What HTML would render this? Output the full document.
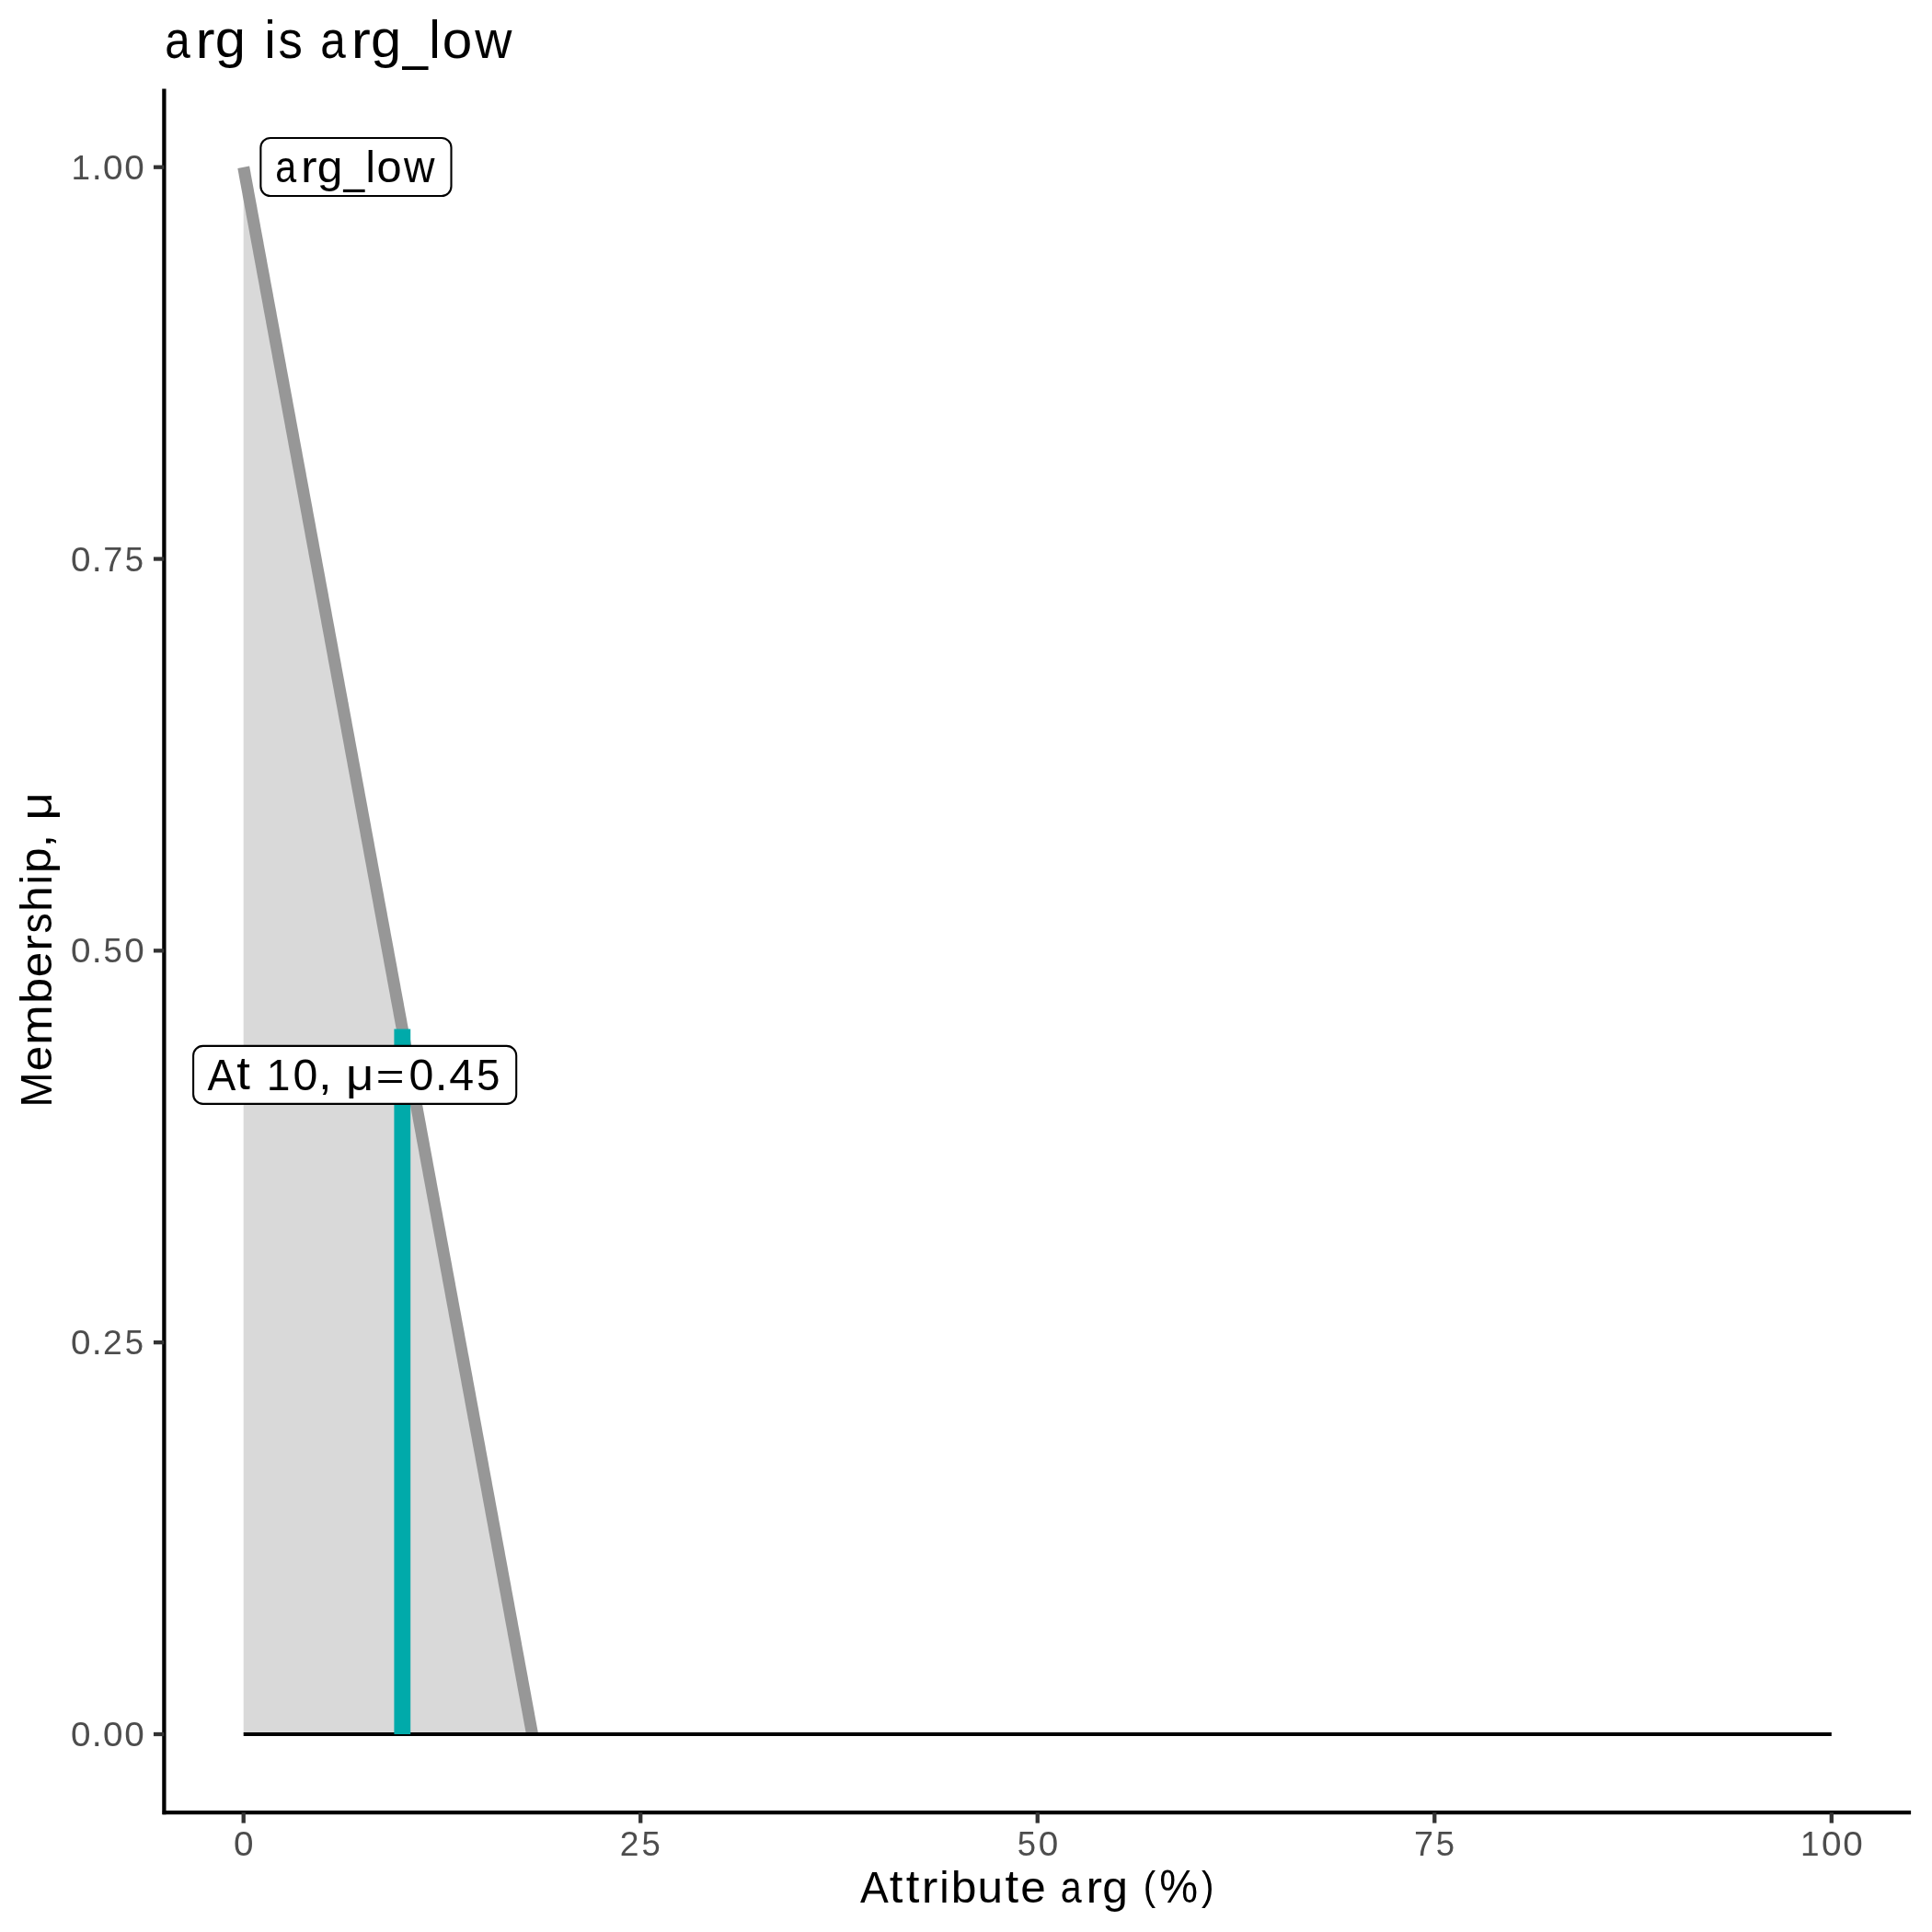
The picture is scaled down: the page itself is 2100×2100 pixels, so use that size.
<!DOCTYPE html>
<html><head><meta charset="utf-8">
<style>
html,body{margin:0;padding:0;background:#fff;overflow:hidden;}
svg{display:block;will-change:transform;}
text{font-family:"Liberation Sans",sans-serif;}
</style></head>
<body>
<svg width="2100" height="2100" viewBox="0 0 2100 2100">
<rect x="0" y="0" width="2100" height="2100" fill="#ffffff"/>
<g fill="#000000">
<text transform="translate(179.20,63.02) scale(0.8992,1.0481)" font-size="55.0">a</text>
<text transform="translate(212.50,62.80) scale(1.1500,1.0408)" font-size="55.0">r</text>
<text transform="translate(233.87,62.46) scale(1.0869,1.0322)" font-size="55.0">g</text>
<text transform="translate(287.16,62.80) scale(1.0222,1.0485)" font-size="55.0">i</text>
<text transform="translate(302.53,63.01) scale(0.9586,1.0509)" font-size="55.0">s</text>
<text transform="translate(348.36,63.02) scale(0.8992,1.0481)" font-size="55.0">a</text>
<text transform="translate(381.65,62.80) scale(1.1500,1.0408)" font-size="55.0">r</text>
<text transform="translate(403.02,62.46) scale(1.0869,1.0322)" font-size="55.0">g</text>
<text transform="translate(437.63,63.75) scale(0.8919,1.1000)" font-size="55.0">_</text>
<text transform="translate(466.32,62.80) scale(1.0222,1.0485)" font-size="55.0">l</text>
<text transform="translate(480.78,63.02) scale(1.0631,1.0481)" font-size="55.0">o</text>
<text transform="translate(516.23,62.80) scale(1.0108,1.0351)" font-size="55.0">w</text>
</g>
<polygon points="264.7,1885 264.7,181.7 578.54,1885" fill="#d9d9d9"/>
<line x1="264.7" y1="181.7" x2="578.54" y2="1885" stroke="#979797" stroke-width="13"/>
<line x1="264.7" y1="1885" x2="1990.8" y2="1885" stroke="#000000" stroke-width="4.1"/>
<line x1="437.31" y1="1885" x2="437.31" y2="1118.51" stroke="#00aaaa" stroke-width="17.8"/>
<rect x="283.35" y="150" width="207.15" height="63" rx="10.5" ry="10.5" fill="#ffffff" stroke="#000" stroke-width="2.1"/>
<g fill="#000000">
<text transform="translate(299.15,197.98) scale(0.8992,1.0481)" font-size="45.83">a</text>
<text transform="translate(326.89,197.80) scale(1.1500,1.0408)" font-size="45.83">r</text>
<text transform="translate(344.70,197.52) scale(1.0869,1.0322)" font-size="45.83">g</text>
<text transform="translate(373.52,198.59) scale(0.8919,1.1000)" font-size="45.83">_</text>
<text transform="translate(397.42,197.80) scale(1.0222,1.0485)" font-size="45.83">l</text>
<text transform="translate(409.48,197.98) scale(1.0631,1.0481)" font-size="45.83">o</text>
<text transform="translate(439.03,197.80) scale(1.0108,1.0351)" font-size="45.83">w</text>
</g>
<rect x="210.1" y="1136.9" width="351.1" height="63" rx="10.5" ry="10.5" fill="#ffffff" stroke="#000" stroke-width="2.1"/>
<g fill="#000000">
<text transform="translate(225.51,1184.70) scale(1.0074,1.0596)" font-size="45.83">A</text>
<text transform="translate(257.30,1184.32) scale(1.1500,1.0731)" font-size="45.83">t</text>
<text transform="translate(289.84,1184.70) scale(1.0068,1.0596)" font-size="45.83">1</text>
<text transform="translate(318.61,1184.87) scale(1.0541,1.0683)" font-size="45.83">0</text>
<text transform="translate(346.12,1184.03) scale(1.1500,1.0229)" font-size="45.83">,</text>
<text transform="translate(376.10,1185.02) scale(1.1500,1.0481)" font-size="45.83">μ</text>
<text transform="translate(408.74,1183.56) scale(1.1500,0.8758)" font-size="45.83">=</text>
<text transform="translate(444.45,1184.87) scale(1.0541,1.0683)" font-size="45.83">0</text>
<text transform="translate(472.85,1184.70) scale(1.0821,1.1598)" font-size="45.83">.</text>
<text transform="translate(488.17,1184.70) scale(1.0543,1.0596)" font-size="45.83">4</text>
<text transform="translate(517.90,1184.87) scale(0.9949,1.0651)" font-size="45.83">5</text>
</g>
<line x1="178.39" y1="96.54" x2="178.39" y2="1972.32" stroke="#000" stroke-width="4.3"/>
<line x1="176.74" y1="1970.16" x2="2077.11" y2="1970.16" stroke="#000" stroke-width="4.3"/>
<g stroke="#333333" stroke-width="4.3">
<line x1="166.93" y1="1885" x2="178.39" y2="1885"/>
<line x1="166.93" y1="1459.17" x2="178.39" y2="1459.17"/>
<line x1="166.93" y1="1033.35" x2="178.39" y2="1033.35"/>
<line x1="166.93" y1="607.53" x2="178.39" y2="607.53"/>
<line x1="166.93" y1="181.7" x2="178.39" y2="181.7"/>
<line x1="264.7" y1="1970.16" x2="264.7" y2="1981.62"/>
<line x1="696.22" y1="1970.16" x2="696.22" y2="1981.62"/>
<line x1="1127.75" y1="1970.16" x2="1127.75" y2="1981.62"/>
<line x1="1559.28" y1="1970.16" x2="1559.28" y2="1981.62"/>
<line x1="1990.8" y1="1970.16" x2="1990.8" y2="1981.62"/>
</g>
<g fill="#4d4d4d">
<text transform="translate(77.39,195.00) scale(1.0068,1.0119)" font-size="36.67">1</text>
<text transform="translate(99.79,195.00) scale(1.0821,1.1076)" font-size="36.67">.</text>
<text transform="translate(112.05,195.13) scale(1.0541,1.0202)" font-size="36.67">0</text>
<text transform="translate(135.36,195.13) scale(1.0541,1.0202)" font-size="36.67">0</text>
<text transform="translate(77.08,621.13) scale(1.0541,1.0202)" font-size="36.67">0</text>
<text transform="translate(99.79,621.00) scale(1.0821,1.1076)" font-size="36.67">.</text>
<text transform="translate(112.21,621.00) scale(1.0311,1.0119)" font-size="36.67">7</text>
<text transform="translate(135.82,621.13) scale(0.9949,1.0172)" font-size="36.67">5</text>
<text transform="translate(77.08,1046.13) scale(1.0541,1.0202)" font-size="36.67">0</text>
<text transform="translate(99.79,1046.00) scale(1.0821,1.1076)" font-size="36.67">.</text>
<text transform="translate(112.51,1046.13) scale(0.9949,1.0172)" font-size="36.67">5</text>
<text transform="translate(135.36,1046.13) scale(1.0541,1.0202)" font-size="36.67">0</text>
<text transform="translate(77.08,1472.13) scale(1.0541,1.0202)" font-size="36.67">0</text>
<text transform="translate(99.79,1472.00) scale(1.0821,1.1076)" font-size="36.67">.</text>
<text transform="translate(111.96,1472.00) scale(1.0161,1.0151)" font-size="36.67">2</text>
<text transform="translate(135.82,1472.13) scale(0.9949,1.0172)" font-size="36.67">5</text>
<text transform="translate(77.08,1898.13) scale(1.0541,1.0202)" font-size="36.67">0</text>
<text transform="translate(99.79,1898.00) scale(1.0821,1.1076)" font-size="36.67">.</text>
<text transform="translate(112.05,1898.13) scale(1.0541,1.0202)" font-size="36.67">0</text>
<text transform="translate(135.36,1898.13) scale(1.0541,1.0202)" font-size="36.67">0</text>
<text transform="translate(253.94,2016.63) scale(1.0541,1.0202)" font-size="36.67">0</text>
<text transform="translate(673.71,2016.50) scale(1.0161,1.0151)" font-size="36.67">2</text>
<text transform="translate(697.58,2016.63) scale(0.9949,1.0172)" font-size="36.67">5</text>
<text transform="translate(1105.79,2016.63) scale(0.9949,1.0172)" font-size="36.67">5</text>
<text transform="translate(1128.64,2016.63) scale(1.0541,1.0202)" font-size="36.67">0</text>
<text transform="translate(1537.02,2016.50) scale(1.0311,1.0119)" font-size="36.67">7</text>
<text transform="translate(1560.63,2016.63) scale(0.9949,1.0172)" font-size="36.67">5</text>
<text transform="translate(1957.03,2016.50) scale(1.0068,1.0119)" font-size="36.67">1</text>
<text transform="translate(1980.04,2016.63) scale(1.0541,1.0202)" font-size="36.67">0</text>
<text transform="translate(2003.36,2016.63) scale(1.0541,1.0202)" font-size="36.67">0</text>
</g>
<g fill="#000000">
<text transform="translate(935.01,2067.90) scale(1.0074,1.0596)" font-size="45.83">A</text>
<text transform="translate(966.80,2067.52) scale(1.1500,1.0731)" font-size="45.83">t</text>
<text transform="translate(984.77,2067.52) scale(1.1500,1.0731)" font-size="45.83">t</text>
<text transform="translate(1001.87,2067.90) scale(1.1500,1.0408)" font-size="45.83">r</text>
<text transform="translate(1021.24,2067.90) scale(1.0222,1.0485)" font-size="45.83">i</text>
<text transform="translate(1033.74,2068.08) scale(1.0879,1.0539)" font-size="45.83">b</text>
<text transform="translate(1062.57,2068.07) scale(1.0782,1.0672)" font-size="45.83">u</text>
<text transform="translate(1092.45,2067.52) scale(1.1500,1.0731)" font-size="45.83">t</text>
<text transform="translate(1109.32,2068.08) scale(1.0801,1.0481)" font-size="45.83">e</text>
<text transform="translate(1152.67,2068.08) scale(0.8992,1.0481)" font-size="45.83">a</text>
<text transform="translate(1180.40,2067.90) scale(1.1500,1.0408)" font-size="45.83">r</text>
<text transform="translate(1198.21,2067.62) scale(1.0869,1.0322)" font-size="45.83">g</text>
<text transform="translate(1242.66,2064.87) scale(0.8800,0.9560)" font-size="45.83">(</text>
<text transform="translate(1260.17,2068.26) scale(1.0269,1.0809)" font-size="45.83">%</text>
<text transform="translate(1306.07,2064.87) scale(0.8800,0.9560)" font-size="45.83">)</text>
</g>
<g fill="#000000" transform="translate(55.7,1204.17) rotate(-90)">
<text transform="translate(0.75,0.00) scale(0.9971,1.0596)" font-size="45.83">M</text>
<text transform="translate(39.96,0.18) scale(1.0801,1.0481)" font-size="45.83">e</text>
<text transform="translate(68.43,0.00) scale(1.1394,1.0408)" font-size="45.83">m</text>
<text transform="translate(113.32,0.18) scale(1.0879,1.0539)" font-size="45.83">b</text>
<text transform="translate(141.88,0.18) scale(1.0801,1.0481)" font-size="45.83">e</text>
<text transform="translate(170.32,0.00) scale(1.1500,1.0408)" font-size="45.83">r</text>
<text transform="translate(189.76,0.18) scale(0.9586,1.0509)" font-size="45.83">s</text>
<text transform="translate(213.09,0.00) scale(1.0856,1.0485)" font-size="45.83">h</text>
<text transform="translate(242.61,0.00) scale(1.0222,1.0485)" font-size="45.83">i</text>
<text transform="translate(255.10,-0.27) scale(1.0879,1.0308)" font-size="45.83">p</text>
<text transform="translate(282.73,-0.67) scale(1.1500,1.0229)" font-size="45.83">,</text>
<text transform="translate(312.72,0.32) scale(1.1500,1.0481)" font-size="45.83">μ</text>
</g>
</svg>
</body></html>
